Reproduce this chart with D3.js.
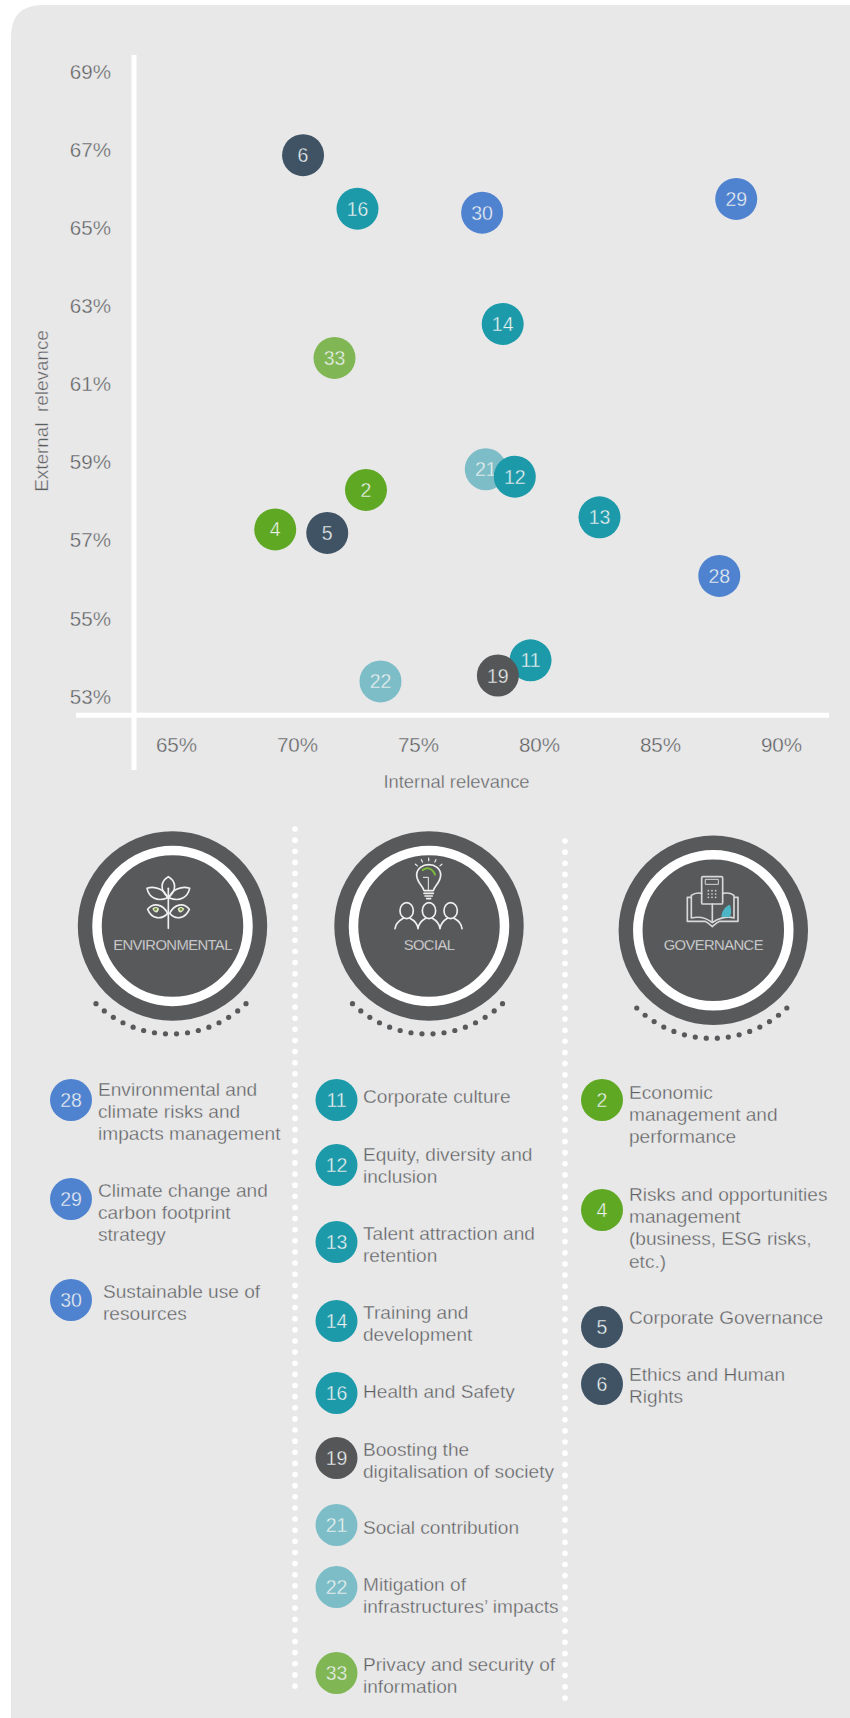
<!DOCTYPE html>
<html><head><meta charset="utf-8">
<script src="https://cdnjs.cloudflare.com/ajax/libs/d3/7.8.5/d3.min.js"></script>
<style>
html,body{margin:0;padding:0;background:#fff}
svg{display:block}
text{font-family:"Liberation Sans",Arial,sans-serif;font-weight:400}
</style></head><body>
<svg id="c" width="850" height="1718"></svg>
<script>
// ---- data ----
const topicIds      = [6,16,30,29,14,33,21,12,2,13,4,5,28,22,11,19];
const internalValue = [70.25,72.5,77.65,88.15,78.5,71.55,77.8,79,72.85,82.5,69.1,71.25,87.45,73.45,79.65,78.3];
const externalValue = [66.87,65.5,65.4,65.75,62.55,61.68,58.83,58.64,58.3,57.6,57.29,57.2,56.1,53.4,53.94,53.55];
const topicCategory = ["gov","soc","env","env","soc","priv","lt","soc","eco","soc","eco","gov","env","lt","soc","dig"];
const xTicks = [65,70,75,80,85,90];
const yTicks = [53,55,57,59,61,63,65,67,69];
const categoryColor = {gov:"#3f5365",soc:"#1c9aaa",env:"#4f82cf",priv:"#80b653",lt:"#7dbdc7",eco:"#5fa823",dig:"#555658"};
const envIds = [28,29,30], socIds = [11,12,13,14,16,19,21,22,33], govIds = [2,4,5,6];
const topicLabels = {
 28:["Environmental and","climate risks and","impacts management"],
 29:["Climate change and","carbon footprint","strategy"],
 30:["Sustainable use of","resources"],
 11:["Corporate culture"],
 12:["Equity, diversity and","inclusion"],
 13:["Talent attraction and","retention"],
 14:["Training and","development"],
 16:["Health and Safety"],
 19:["Boosting the","digitalisation of society"],
 21:["Social contribution"],
 22:["Mitigation of","infrastructures’ impacts"],
 33:["Privacy and security of","information"],
 2:["Economic","management and","performance"],
 4:["Risks and opportunities","management","(business, ESG risks,","etc.)"],
 5:["Corporate Governance"],
 6:["Ethics and Human","Rights"]
};
const pillarNames = ["ENVIRONMENTAL","SOCIAL","GOVERNANCE"];

// ---- layout ----
const legendLayout = { // id: [circle x, circle y, text x, first baseline]
 28:[71,1100,98,1096],29:[71,1199,98,1197],30:[71,1300,103,1298],
 11:[336.5,1100,363,1103],12:[336.5,1165,363,1161],13:[336.5,1242,363,1240],14:[336.5,1321,363,1319],
 16:[336.5,1393,363,1398],19:[336.5,1458,363,1456],21:[336.5,1525,363,1534],22:[336.5,1587,363,1591],33:[336.5,1673,363,1671],
 2:[602,1100,629,1099],4:[602,1210,629,1201],5:[602,1327,629,1324],6:[602,1384,629,1381]
};
const pillarCentre = [[172.5,926],[429,926],[713.3,930.3]];
const catOf = id => topicCategory[topicIds.indexOf(id)];
const TXT="#5d5e60", FG="#eef3f3", DARK="#58595b", BG="#e8e8e9";
// thin the regular face towards the light weight of the reference
const thin=(sel,bg,w)=>sel.attr("stroke",bg).attr("stroke-width",w||0.35);

const svg=d3.select("#c");
svg.append("path").attr("fill",BG).attr("d","M11,37 Q11,5 43,5 H850 V1718 H11 Z");

const x=d3.scaleLinear().domain([65,90]).range([176,781]);
const y=d3.scaleLinear().domain([53,69]).range([697,72]);

// axes
const gy=svg.append("g").attr("transform","translate(111,0)")
  .call(d3.axisLeft(y).tickValues(yTicks).tickSize(0).tickPadding(0).tickFormat(d=>d+"%"));
const gx=svg.append("g").attr("transform","translate(0,737)")
  .call(d3.axisBottom(x).tickValues(xTicks).tickSize(0).tickPadding(0).tickFormat(d=>d+"%"));
[gx,gy].forEach(g=>{g.select(".domain").remove();
  g.attr("font-family",null).attr("font-size",null);
  g.selectAll("text").attr("fill",TXT).style("font-size","20.6px").call(thin,BG);});
gy.selectAll("text").attr("dy","0.3em");
gx.selectAll("text").attr("dy","0.72em");

svg.append("line").attr("x1",134).attr("x2",134).attr("y1",55).attr("y2",770).attr("stroke","#fff").attr("stroke-width",5);
svg.append("line").attr("x1",76).attr("x2",829).attr("y1",715.3).attr("y2",715.3).attr("stroke","#fff").attr("stroke-width",5);

svg.append("text").attr("x",456.5).attr("y",788).attr("text-anchor","middle").attr("fill",TXT).style("font-size","18.4px").call(thin,BG).text("Internal relevance");
svg.append("text").attr("transform","translate(48,411) rotate(-90)").attr("text-anchor","middle").attr("fill",TXT).style("font-size","18.9px").style("white-space","pre").call(thin,BG).text("External  relevance");

function badge(g,id,cx,cy){
  const col=categoryColor[catOf(id)];
  g.append("circle").attr("cx",cx).attr("cy",cy).attr("r",21).attr("fill",col);
  g.append("text").attr("x",cx).attr("y",cy).attr("dy","0.36em").attr("text-anchor","middle").attr("fill",FG).style("font-size","19.5px").call(thin,col).text(id);
}
// bubbles
const points=svg.append("g");
topicIds.forEach((id,i)=>badge(points,id,x(internalValue[i]),y(externalValue[i])));

// dotted separators
[[295,829,1688],[565,841,1700]].forEach(([dx,a,b])=>{
  svg.append("g").selectAll("circle").data(d3.range(a,b+1,11.13)).join("circle")
    .attr("cx",dx).attr("cy",d=>d).attr("r",2.8).attr("fill","#fff");
});

// pillars
const arcDots=d3.range(16).map(i=>-44+i*(88/15));
pillarNames.forEach((name,i)=>{
  const [cx,cy]=pillarCentre[i];
  const g=svg.append("g");
  g.append("circle").attr("cx",cx).attr("cy",cy).attr("r",94.7).attr("fill",DARK);
  g.append("circle").attr("cx",cx).attr("cy",cy).attr("r",75.5).attr("fill",DARK).attr("stroke","#fff").attr("stroke-width",9.5);
  g.append("text").attr("x",cx).attr("y",950).attr("text-anchor","middle").attr("fill","#e9e9ea")
    .style("font-size","14.8px").style("letter-spacing","-0.6px").call(thin,DARK,0.3).text(name);
  g.append("g").selectAll("circle").data(arcDots).join("circle")
    .attr("cx",a=>cx-1.5+108*Math.sin(a*Math.PI/180))
    .attr("cy",a=>cy+108*Math.cos(a*Math.PI/180)).attr("r",2.6).attr("fill",DARK);
});

// icons (drawn in zoomed units, 3 per pixel)
const ICON="#f0f0f0";
function icon(ox,oy){return svg.append("g").attr("transform",`translate(${ox},${oy}) scale(0.3333)`)
  .attr("fill","none").attr("stroke",ICON).attr("stroke-width",5).attr("stroke-linejoin","round").attr("stroke-linecap","round");}
// environmental
{const g=icon(125,860);
 ["M130,50 C108,62 102,90 130,112 C158,90 152,62 130,50Z",
  "M66,85 C90,76 122,90 127,114 C95,126 72,112 66,85Z",
  "M194,85 C170,76 138,90 133,114 C165,126 188,112 194,85Z",
  "M68,148 C85,126 114,132 128,160 C110,180 80,178 68,148Z",
  "M193,148 C176,126 148,132 134,160 C150,180 180,178 193,148Z",
  "M130,85 V205"].forEach(d=>g.append("path").attr("d",d));
 g.append("path").attr("d","M82,146 C88,138 98,140 102,146 C100,160 90,162 82,146Z").attr("fill","#dfe8c8").attr("stroke","none");
 g.append("path").attr("d","M178,146 C172,138 162,140 158,146 C160,160 170,162 178,146Z").attr("fill","#dfe8c8").attr("stroke","none");
 g.append("circle").attr("cx",92).attr("cy",148).attr("r",4).attr("fill","#6f8f3a").attr("stroke","none");
 g.append("circle").attr("cx",168).attr("cy",148).attr("r",4).attr("fill","#6f8f3a").attr("stroke","none");
}
// social
{const g=icon(380,840);
 g.append("path").attr("d","M132,152 C128,135 110,128 110,105 C110,85 128,74 146,74 C165,74 182,85 182,105 C182,128 164,135 160,152 Z");
 g.append("path").attr("d","M132,160 H160 M135,168 H157 M140,176 H152");
 g.append("path").attr("d","M128,90 C140,80 158,84 165,104").attr("stroke","#7dbb3c").attr("stroke-width",6);
 g.append("path").attr("d","M145,152 V112 H130").attr("stroke-width",3);
 d3.range(5).forEach(k=>{const a=(-50+k*25)*Math.PI/180;
   g.append("line").attr("x1",146+44*Math.sin(a)).attr("y1",106-44*Math.cos(a)).attr("x2",146+52*Math.sin(a)).attr("y2",106-52*Math.cos(a)).attr("stroke-width",3.5);});
 [80,147,212].forEach(px=>{
   g.append("ellipse").attr("cx",px).attr("cy",212).attr("rx",20).attr("ry",24);
 });
 g.append("path").attr("d","M45,266 C48,245 62,240 70,235 M90,235 C100,240 112,248 114,266 C116,248 128,240 137,235 M157,235 C166,240 178,248 180,266 C182,248 194,240 202,235 M222,235 C232,240 244,248 246,266");
}
// governance
{const g=icon(670,860);
 g.append("rect").attr("x",95).attr("y",50).attr("width",63).attr("height",82).attr("rx",4).attr("stroke","#d8d8d8");
 g.append("rect").attr("x",107).attr("y",58).attr("width",38).attr("height",15).attr("stroke-width",3).attr("stroke","#d8d8d8");
 d3.range(3).forEach(r=>d3.range(3).forEach(c=>g.append("circle").attr("cx",115+c*11).attr("cy",92+r*10).attr("r",2.6).attr("fill","#d0d0d0").attr("stroke","none")));
 g.append("path").attr("stroke","#d8d8d8").attr("d","M95,100 C85,98 72,100 64,106 V174 C90,168 110,174 127,188 C144,174 170,168 192,174 V106 C184,100 170,98 158,100 M127,132 V188 M64,112 H52 V184 H105 C114,188 120,194 127,200 C134,194 140,188 149,184 H204 V112 H192");
 g.append("path").attr("d","M154,170 C156,150 168,138 180,134 C184,148 186,160 178,172 Z").attr("fill","#4db6c4").attr("stroke","none");
}

// legend
[...envIds,...socIds,...govIds].forEach(id=>{
  const [cx,cy,tx,by]=legendLayout[id];
  const g=svg.append("g");
  badge(g,id,cx,cy);
  g.append("text").attr("fill",TXT).style("font-size","19.1px").call(thin,BG).selectAll("tspan").data(topicLabels[id]).join("tspan")
    .attr("x",tx).attr("y",(d,i)=>by+i*22.2).text(d=>d);
});
</script></body></html>
